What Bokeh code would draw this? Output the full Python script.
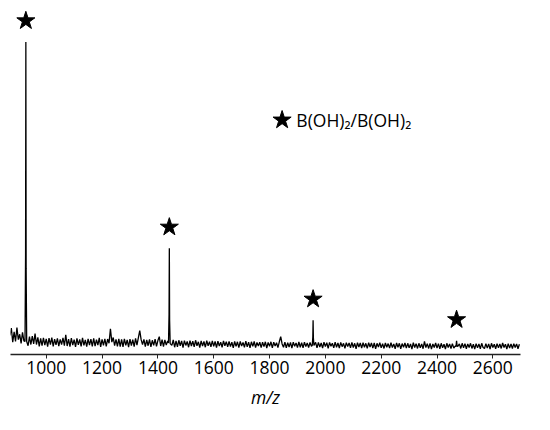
from bokeh.plotting import figure
from bokeh.models import Range1d, FixedTicker
from bokeh.core.properties import value
from bokeh.embed import file_html
from bokeh.resources import INLINE

# ---- data ----
base_start = 870
base_step = 5
baseline = [
    3.0, 5.4, 0.8, 4.2, 1.0, 5.6, 1.6, 3.4, 0.4, 4.0, 1.2, 1.0, 1.0, -0.4, 2.6, 0.0, 2.8, 0.2, 3.6, 0.0,
    2.4, -0.6, 2.0, -0.4, 2.2, -0.2, 1.9, -0.7, 2.1, 0.0, 2.3, -0.6, 1.8, -0.1, 2.0, -0.5, 1.7, 0.0, 2.2, -0.4,
    3.2, -0.5, 1.8, -0.7, 2.1, -0.2, 1.6, -0.8, 2.0, -0.1, 1.7, -0.6, 2.2, -0.3, 1.5, -0.7, 1.9, -0.2, 1.8, -0.6,
    2.0, -0.5, 1.6, -0.2, 2.2, -0.8, 1.7, -0.3, 1.9, -0.6, 1.8, 0.4, 5.2, 0.8, 2.3, -0.4, 1.7, -0.6, 1.9, -0.7,
    1.7, -0.8, 1.9, -0.3, 1.5, -0.9, 1.8, -0.4, 1.6, -0.7, 2.0, -0.2, 2.2, 4.6, 1.6, 0.0, 1.7, -0.7, 1.5, -0.4,
    1.7, -0.8, 1.4, -0.3, 1.8, -0.6, 1.3, 2.6, -0.5, 1.6, -0.7, 1.5, -0.2, 1.2, -0.5, 0.0, -0.3, 1.5, -0.9, 1.2,
    -0.8, 1.4, -0.4, 1.2, -1.0, 1.3, -0.3, 1.0, -0.9, 1.3, -0.5, 1.1, -0.8, 1.4, -0.4, 0.9, -1.0, 1.2, -0.5, 1.0,
    -0.9, 1.3, -0.4, 0.9, -0.8, 1.2, -0.6, 1.0, -1.0, 1.1, -0.5, 0.8, -0.9, 1.2, -0.4, 0.9, -0.8, 1.0, -0.7, 0.8,
    -1.1, 1.0, -0.6, 0.9, -1.0, 1.0, -0.5, 0.7, -0.9, 1.1, -0.8, 0.8, -1.1, 0.9, -0.6, 1.0, -1.0, 0.7, -0.5, 0.8,
    -1.0, 0.8, -0.7, 0.9, -1.2, 0.7, -0.6, 0.9, -1.1, 0.8, -0.5, 0.6, -1.0, 0.9, 2.6, 0.2, -0.9, 0.8, -1.1, 0.6,
    -0.8, 0.7, -1.2, 0.8, -0.6, 0.5, -1.0, 0.9, -0.9, 0.6, -1.1, 0.8, -0.7, 0.5, -1.0, 0.7, -0.6, 0.0, 0.0, 0.7,
    -1.1, 0.7, -0.8, 0.5, -1.2, 0.8, -0.7, 0.6, -1.3, 0.7, -0.6, 0.4, -1.1, 0.8, -0.9, 0.5, -1.2, 0.7, -0.7, 0.4,
    -1.3, 0.6, -0.7, 0.5, -1.1, 0.7, -1.0, 0.4, -1.4, 0.6, -0.8, 0.5, -1.2, 0.6, -0.9, 0.4, -1.3, 0.6, -0.8, 0.5,
    -1.2, 0.5, -1.4, 0.4, -0.8, 0.6, -1.1, 0.3, -1.3, 0.5, -0.9, 0.3, -1.2, 0.6, -1.0, 0.2, -1.4, 0.5, -0.9, 0.4,
    -1.4, 0.3, -0.9, 0.5, -1.2, 0.4, -1.1, 0.2, -1.5, 0.6, -1.0, 0.3, -1.3, 0.4, -1.1, 0.2, -1.4, 1.0, -1.0, 0.3,
    -1.3, 0.4, -1.5, 0.2, -1.0, 0.5, -1.2, 0.3, -1.4, 0.4, -1.1, 0.1, -1.5, 0.4, -1.0, 0.2, -1.3, 0.3, -1.2, -0.5,
    -0.5, -0.5, 0.2, -1.3, 0.4, -1.1, 0.3, -1.4, 0.2, -1.0, 0.4, -1.3, 0.1, -1.5, 0.3, -1.1, 0.2, -1.4, 0.4, -1.0,
    -1.3, 0.3, -1.2, 0.2, -1.5, 0.4, -1.0, 0.1, -1.4, 0.3, -1.1, 0.2, -1.3, 0.5, -1.0, 0.1, -1.5, 0.3, -1.2, 0.2,
    -1.3, 0.3, -1.0, 0.2, -1.4, 0.1,
]
peak_mz = [924, 926, 927, 928, 930,
           1438, 1440, 1441, 1442, 1444,
           1953, 1955, 1956, 1957, 1959,
           2468, 2470, 2472]
peak_int = [1.0, 30.0, 100.0, 25.0, 1.0,
            0.5, 10.0, 31.8, 8.0, 0.3,
            -0.3, 2.5, 8.0, 2.2, -0.3,
            -0.6, 1.2, -0.6]
star_mz = [927, 1441, 1956, 2470]
star_int = [100.0, 31.8, 8.0, 1.2]
x_ticks = [1000, 1200, 1400, 1600, 1800, 2000, 2200, 2400, 2600]
legend_text = "B(OH)\u2082/B(OH)\u2082"

# ---- merge baseline and peaks ----
base_mz = [base_start + i * base_step for i in range(len(baseline))]
pts = [(m, v) for m, v in zip(base_mz, baseline)
       if all(abs(m - c) > 4 for c in star_mz)]
pts += list(zip(peak_mz, peak_int))
pts.sort()
mz = [a for a, b in pts]
inten = [b for a, b in pts]

p = figure(width=534, height=414, output_backend="svg", toolbar_location=None,
           x_range=Range1d(872, 2699), y_range=Range1d(-3.3, 110.4),
           min_border_left=10, min_border_right=14, min_border_top=10,
           min_border_bottom=60)
p.outline_line_color = None
p.grid.visible = False
p.yaxis.visible = False

p.line(mz, inten, line_color="black", line_width=1.3)

star_y = [v + 7 for v in star_int]
p.scatter(star_mz, star_y, marker="star", size=19, fill_color="black",
          line_color="black")

p.scatter([1845], [74.2], marker="star", size=19, fill_color="black",
          line_color="black")
p.text([1896], [74.2], text=[legend_text], text_font=value("Open Sans"),
       text_font_size="17.5px", text_baseline="middle", text_color="black")

ax = p.xaxis[0]
ax.ticker = FixedTicker(ticks=x_ticks)
ax.axis_line_color = "#222222"
ax.axis_line_width = 1.5
ax.major_tick_in = 0
ax.major_tick_out = 4
ax.major_tick_line_color = "#222222"
ax.minor_tick_line_color = None
ax.major_label_text_font = "Open Sans"
ax.major_label_text_font_size = "17.5px"
ax.major_label_text_color = "black"
ax.major_label_standoff = 2
ax.axis_label = "m/z"
ax.axis_label_text_font = "Open Sans"
ax.axis_label_text_font_style = "italic"
ax.axis_label_text_font_size = "17.5px"
ax.axis_label_text_color = "black"
ax.axis_label_standoff = 8

open("out.html", "w").write(file_html(p, INLINE))
